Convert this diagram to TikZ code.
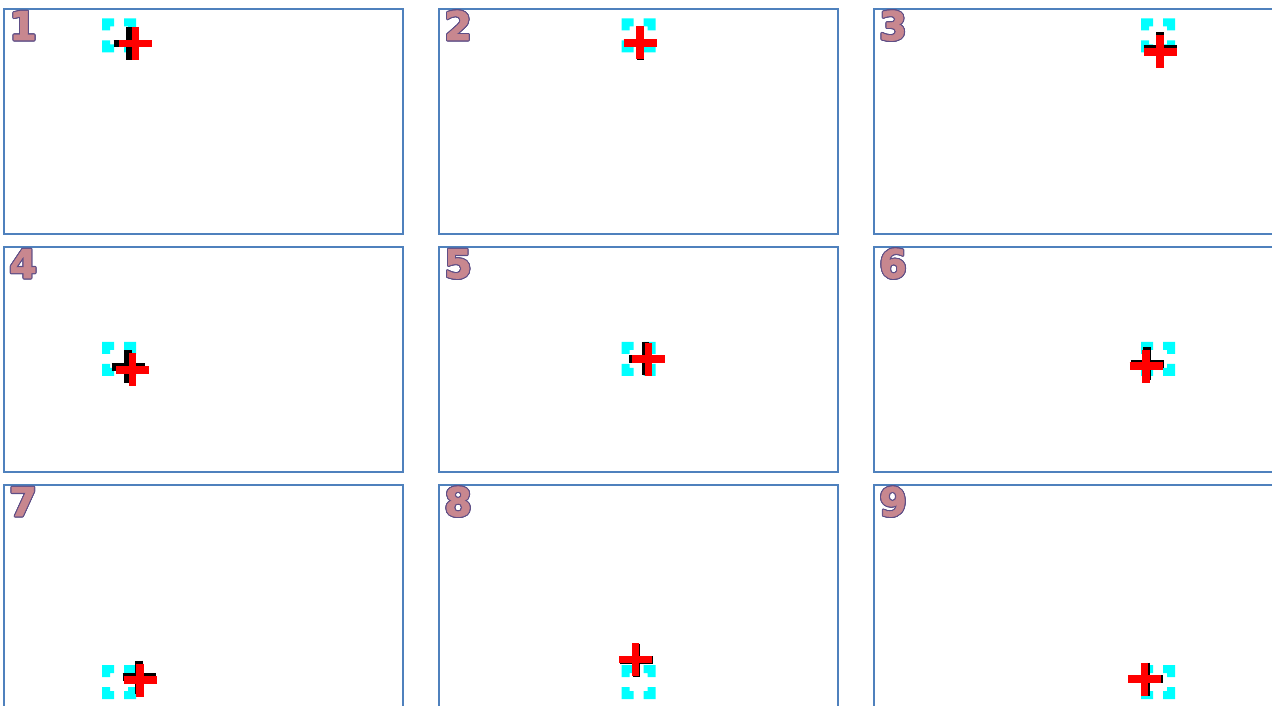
\documentclass[tikz,border=0pt]{standalone}
\usepackage{fontspec}
\setmainfont{DejaVu Sans}
\newfontfamily\numfont[FakeBold=1.6]{DejaVu Sans Bold}
\usepackage{contour}
\contourlength{0.6pt}
\definecolor{frameblue}{HTML}{4F81BD}
\definecolor{numfill}{HTML}{C8878F}
\definecolor{numline}{HTML}{5E4E86}
\definecolor{aimcyan}{HTML}{00FFFF}
\begin{document}
\begin{tikzpicture}[x=0.02cm, y=-0.02cm, line join=miter]
	\tikzset{frame/.style={draw=frameblue, line width=0.04cm},
		numlabel/.style={anchor=base west, inner sep=0pt, font=\fontsize{22.5}{22.5}\numfont},
		blackx/.style={draw=black, line width=0.15cm},
		redx/.style={draw=red, line width=0.155cm}}
	\def \arm{16.5}
	\useasboundingbox (0,0) rectangle (1272,706);
	\clip (0,0) rectangle (1272,706);
	
	% panel / column / row / black offset / red offset
	\foreach \n/\c/\r/\bx/\by/\rx/\ry in {
		1/0/0/11/8/16.5/8, 2/1/0/2/8/1.5/7.5, 3/2/0/2/13.5/2/16.5,
		4/0/1/9/8/13.5/11, 5/1/1/7/0/10/0.5, 6/2/1/-11/5/-12/7.5,
		7/0/2/20/-5/21/-2, 8/1/2/-2/-22/-3/-22.5, 9/2/2/-12/-3/-13.5/-3}{
		\pgfmathsetmacro\px{4+435*\c}
		\pgfmathsetmacro\py{9+238*\r}
		\draw[frame] (\px,\py) rectangle +(399,225);
		\node[numlabel] (num\n) at (\px+5,\py+31) {\contour{numline}{\textcolor{numfill}{\n}}};
		\coordinate (aim\n) at (\px+115+84.5*\c, \py+26.5+85.25*\r);
		\foreach \sx/\sy in {1/1,-1/1,1/-1,-1/-1}
			\fill[aimcyan, shift={(aim\n)}, xscale=\sx, yscale=\sy]
			(-17,-17) -- (-5,-17) -- (-5,-9) -- (-9,-9) -- (-9,-5) -- (-17,-5) -- cycle;
		\path (aim\n) ++(\bx,\by) coordinate (blk\n);
		\path (aim\n) ++(\rx,\ry) coordinate (hit\n);
		\draw[blackx] (blk\n) +(-\arm,0) -- +(\arm,0) (blk\n) +(0,-\arm) -- +(0,\arm);
		\draw[redx] (hit\n) +(-\arm,0) -- +(\arm,0) (hit\n) +(0,-\arm) -- +(0,\arm);
	}
\end{tikzpicture}
\end{document}
